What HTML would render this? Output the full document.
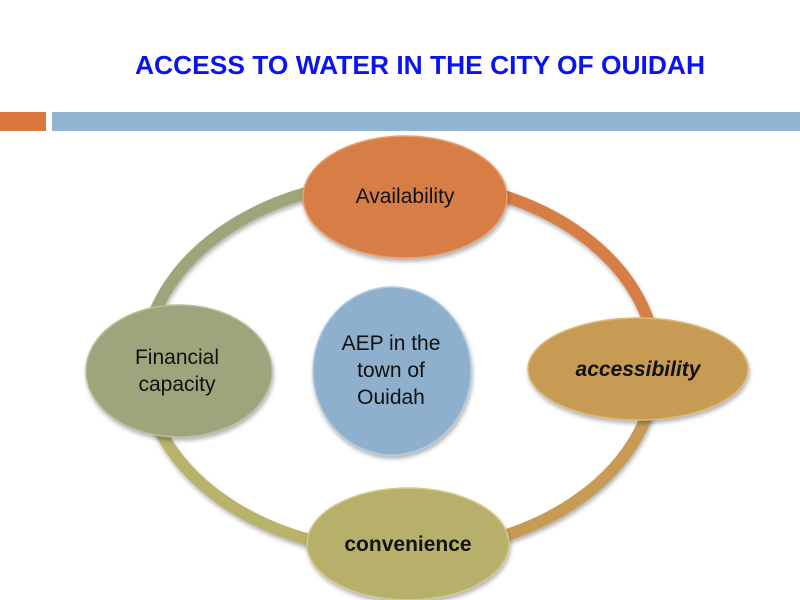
<!DOCTYPE html>
<html><head><meta charset="utf-8"><style>
html,body{margin:0;padding:0;background:#fff;width:800px;height:600px;overflow:hidden}
</style></head><body>
<svg width="800" height="600" xmlns="http://www.w3.org/2000/svg">
<defs>
<filter id="sh" x="-20%" y="-20%" width="140%" height="150%"><feDropShadow dx="1" dy="3" stdDeviation="2" flood-color="#000" flood-opacity="0.3"/></filter>
</defs>
<text x="420" y="74" text-anchor="middle" font-family="Liberation Sans, sans-serif" font-weight="bold" font-size="26" fill="#0a14f0" textLength="570" lengthAdjust="spacingAndGlyphs">ACCESS TO WATER IN THE CITY OF OUIDAH</text>
<rect x="0" y="112" width="46" height="19" fill="#d9773f"/>
<rect x="52" y="112" width="748" height="19" fill="#93b4d2"/>
<g fill="none" stroke-width="12" filter="url(#sh)">
<path d="M400 180 A256 186 0 0 0 144 366" stroke="#9da57a"/>
<path d="M400 180 A256 186 0 0 1 656 366" stroke="#d67e45"/>
<path d="M656 366 A256 186 0 0 1 400 552" stroke="#c89b55"/>
<path d="M144 366 A256 186 0 0 0 400 552" stroke="#b9b26a"/>
</g>
<g filter="url(#sh)" stroke-width="1.5">
<ellipse cx="405" cy="197" rx="102" ry="61" fill="#d67e45" stroke="#e8a070"/>
<ellipse cx="638" cy="369" rx="110" ry="51" fill="#c89b55" stroke="#dcb878"/>
<ellipse cx="408" cy="544" rx="101" ry="56" fill="#b7b06b" stroke="#d0c98a"/>
<ellipse cx="179" cy="371" rx="93" ry="66" fill="#9ea47c" stroke="#b8bd98"/>
<ellipse cx="392" cy="371" rx="79" ry="84" fill="#8eb0cd" stroke="#b0cbe2"/>
</g>
<g font-family="Liberation Sans, sans-serif" fill="#111" text-anchor="middle" font-size="21">
<text x="405" y="203">Availability</text>
<text x="638" y="376" font-style="italic" font-weight="bold">accessibility</text>
<text x="408" y="551" font-weight="bold">convenience</text>
<text x="177" y="364">Financial</text>
<text x="177" y="391">capacity</text>
<text x="391" y="350">AEP in the</text>
<text x="391" y="377">town of</text>
<text x="391" y="404">Ouidah</text>
</g>
</svg>
</body></html>
